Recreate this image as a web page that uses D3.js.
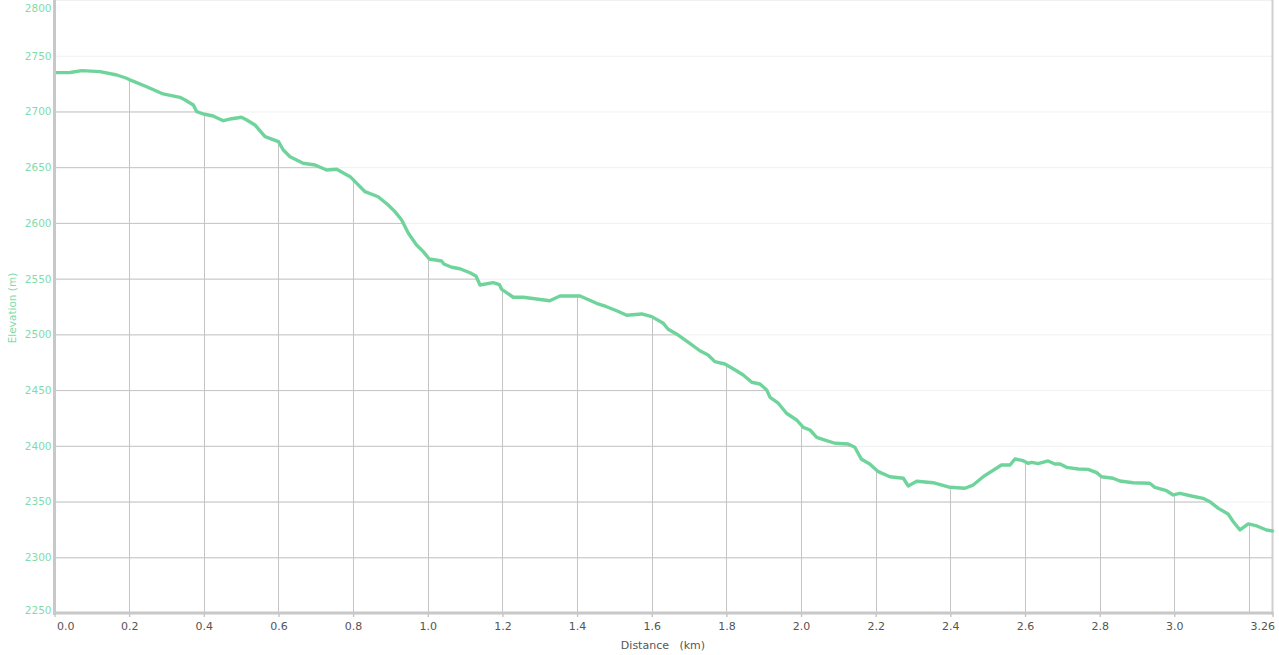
<!DOCTYPE html>
<html><head><meta charset="utf-8">
<script src="https://cdn.jsdelivr.net/npm/d3@7"></script>
<style>
body{margin:0;background:#fff;overflow:hidden;}
svg{display:block;font-family:"DejaVu Sans",Verdana,sans-serif;}
</style>
</head><body>
<svg id="c" width="1279" height="655"></svg>
<script>
const distanceKm = [0.0,0.042,0.073,0.122,0.167,0.193,0.207,0.247,0.291,0.336,0.350,0.372,0.381,0.399,0.425,0.452,0.475,0.501,0.515,0.537,0.564,0.600,0.613,0.631,0.666,0.698,0.729,0.756,0.792,0.832,0.867,0.894,0.912,0.930,0.948,0.970,0.988,1.004,1.037,1.043,1.064,1.086,1.113,1.129,1.140,1.175,1.192,1.198,1.229,1.256,1.327,1.354,1.408,1.452,1.479,1.506,1.533,1.573,1.600,1.631,1.644,1.671,1.702,1.729,1.751,1.769,1.796,1.827,1.845,1.868,1.890,1.908,1.917,1.939,1.961,1.988,2.006,2.024,2.042,2.064,2.091,2.126,2.144,2.162,2.184,2.207,2.238,2.274,2.287,2.310,2.354,2.399,2.439,2.461,2.488,2.537,2.560,2.573,2.595,2.608,2.618,2.635,2.662,2.680,2.694,2.711,2.743,2.769,2.792,2.805,2.836,2.854,2.890,2.934,2.948,2.979,2.997,3.015,3.046,3.077,3.095,3.118,3.144,3.158,3.176,3.198,3.221,3.247,3.263];
const elevationM = [2734.8,2735.0,2736.6,2735.7,2732.7,2729.8,2727.6,2722.2,2715.7,2712.7,2710.3,2705.8,2699.8,2697.7,2695.9,2691.7,2693.5,2694.8,2692.4,2687.9,2677.4,2672.9,2665.4,2659.4,2653.5,2652.0,2647.5,2648.1,2641.5,2628.0,2623.5,2616.1,2610.1,2602.6,2590.7,2580.2,2574.2,2567.6,2565.8,2563.1,2560.2,2558.9,2555.3,2552.4,2544.3,2546.4,2544.6,2540.4,2533.3,2533.3,2530.2,2534.4,2534.4,2527.9,2524.8,2521.2,2517.1,2518.3,2515.9,2509.9,2504.6,2499.4,2492.0,2485.3,2481.5,2475.5,2473.4,2467.4,2463.5,2457.0,2455.5,2450.1,2443.5,2438.2,2429.2,2423.2,2416.6,2414.2,2407.6,2405.2,2402.3,2401.6,2398.7,2387.9,2383.7,2376.8,2372.3,2370.9,2364.0,2368.2,2366.9,2362.8,2361.9,2364.8,2372.3,2382.8,2382.8,2388.2,2386.7,2384.3,2385.2,2384.0,2386.4,2383.7,2383.7,2380.7,2379.2,2378.9,2375.9,2372.3,2370.9,2368.4,2366.9,2366.4,2362.8,2359.7,2355.9,2357.4,2355.0,2352.9,2349.9,2343.9,2338.8,2331.9,2324.5,2329.9,2328.1,2324.5,2323.6];
const yTicks = [2250,2300,2350,2400,2450,2500,2550,2600,2650,2700,2750,2800];
const xGridTicks = [0.2,0.4,0.6,0.8,1.0,1.2,1.4,1.6,1.8,2.0,2.2,2.4,2.6,2.8,3.0,3.2];
const xLabelValues = [0,0.2,0.4,0.6,0.8,1.0,1.2,1.4,1.6,1.8,2.0,2.2,2.4,2.6,2.8,3.0,3.263];
const xLabelTexts = ["0.0","0.2","0.4","0.6","0.8","1.0","1.2","1.4","1.6","1.8","2.0","2.2","2.4","2.6","2.8","3.0","3.26"];

(function(){
const pL = 54.5, pR = 1272.5, pT = 0, pB = 613;
const svg = d3.select("#c");
const x = d3.scaleLinear().domain([0, 3.263]).range([pL, pR]);
const y = d3.scaleLinear().domain([2250, 2800]).range([pB, pT]);
const data = distanceKm.map((d,i)=>({d, e: elevationM[i]}));

const defs = svg.append("defs");
const rg = defs.append("radialGradient").attr("id","shadow").attr("cx","50%").attr("cy","100%").attr("r","50%");
rg.append("stop").attr("offset","0%").attr("stop-color","#000").attr("stop-opacity",0.10);
rg.append("stop").attr("offset","100%").attr("stop-color","#000").attr("stop-opacity",0);
svg.append("ellipse").attr("cx", 660).attr("cy", 700).attr("rx", 620).attr("ry", 80).attr("fill","url(#shadow)");
svg.append("rect").attr("x",pL).attr("y",0).attr("width",pR-pL).attr("height",pB).attr("fill","#fff");

const area = d3.area().x(p=>x(p.d)).y0(pB).y1(p=>y(p.e));
defs.append("clipPath").attr("id","under").append("path").attr("d", area(data));

svg.append("g").selectAll("line").data(yTicks).join("line")
  .attr("x1",pL).attr("x2",pR).attr("y1",t=>y(t)+0.5).attr("y2",t=>y(t)+0.5)
  .attr("stroke","#f0f0f0").attr("stroke-width",1);
const gu = svg.append("g").attr("clip-path","url(#under)");
gu.selectAll("line.h").data(yTicks).join("line").attr("class","h")
  .attr("x1",pL).attr("x2",pR).attr("y1",t=>y(t)+0.5).attr("y2",t=>y(t)+0.5)
  .attr("stroke","#c4c4c4").attr("stroke-width",1);
gu.selectAll("line.v").data(xGridTicks).join("line").attr("class","v")
  .attr("x1",t=>Math.round(x(t))+0.5).attr("x2",t=>Math.round(x(t))+0.5).attr("y1",pT).attr("y2",pB)
  .attr("stroke","#c4c4c4").attr("stroke-width",1);

svg.append("line").attr("x1",pR).attr("x2",pR).attr("y1",0).attr("y2",pB+2).attr("stroke","#cfcfcf").attr("stroke-width",2);

const line = d3.line().x(p=>x(p.d)).y(p=>y(p.e)).curve(d3.curveLinear);
svg.append("path").datum(data).attr("d", line).attr("fill","none")
  .attr("stroke","#6fd49b").attr("stroke-width",3.4).attr("stroke-linejoin","round").attr("stroke-linecap","round");

const yAxis = d3.axisLeft(y).tickValues(yTicks).tickSize(0).tickPadding(3).tickFormat(d3.format("d"));
const gy = svg.append("g").attr("transform",`translate(${pL},0)`).call(yAxis);
gy.select(".domain").remove();
gy.selectAll("text").attr("fill","#7fdcaa").attr("font-size","10.5px").attr("font-family","DejaVu Sans, Verdana, sans-serif");
gy.selectAll(".tick").filter(d=>d===2800).select("text").attr("dy","1.05em");
gy.selectAll(".tick").filter(d=>d===2250).select("text").attr("dy","0em");
svg.append("line").attr("x1",pL).attr("x2",pL).attr("y1",0).attr("y2",pB+2).attr("stroke","#c8c8c8").attr("stroke-width",3);

const xAxis = d3.axisBottom(x).tickValues(xLabelValues).tickSize(4).tickPadding(5)
  .tickFormat((d,i)=>xLabelTexts[i]);
const gx = svg.append("g").attr("transform",`translate(0,${pB})`).call(xAxis);
gx.select(".domain").remove();
gx.selectAll(".tick line").attr("stroke","#c8c8c8").attr("stroke-width",1.5);
gx.selectAll("text").attr("fill","#555").attr("font-size","11px").attr("font-family","DejaVu Sans, Verdana, sans-serif");
gx.selectAll(".tick").filter((d,i)=>i===0).select("text").attr("text-anchor","start").attr("dx","2");
gx.selectAll(".tick").filter((d,i)=>i===xLabelValues.length-1).select("text").attr("text-anchor","end").attr("dx","2");
svg.append("line").attr("x1",pL-1.5).attr("x2",pR+1).attr("y1",pB).attr("y2",pB).attr("stroke","#c8c8c8").attr("stroke-width",3);

svg.append("text").attr("x",663).attr("y",649).attr("text-anchor","middle").attr("fill","#555")
  .attr("font-size","11px").style("white-space","pre").text("Distance   (km)");
svg.append("text").attr("transform","translate(16,308) rotate(-90)").attr("text-anchor","middle")
  .attr("fill","#7fdcaa").attr("font-size","10.5px").text("Elevation (m)");
})();
</script>
</body></html>
